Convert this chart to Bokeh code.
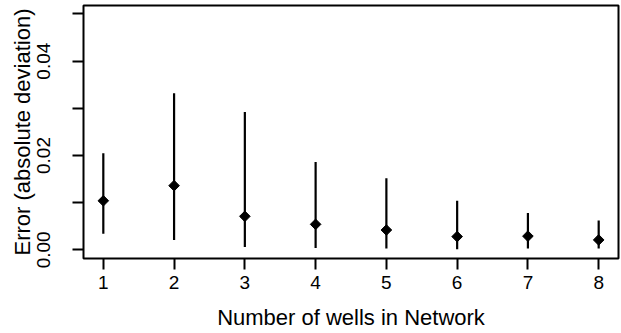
from bokeh.plotting import figure
from bokeh.models import FixedTicker, Range1d, ColumnDataSource
from bokeh.embed import file_html
from bokeh.resources import INLINE
import math

wells = [1, 2, 3, 4, 5, 6, 7, 8]
median_err = [0.0104, 0.0136, 0.0071, 0.0054, 0.0042, 0.0028, 0.0029, 0.0021]
upper_err = [0.0205, 0.0332, 0.0292, 0.0186, 0.0152, 0.0104, 0.0078, 0.0062]
lower_err = [0.0034, 0.0021, 0.0006, 0.0004, 0.0003, 0.0001, 0.0003, 0.0003]
y_ticks = [0.0, 0.01, 0.02, 0.03, 0.04, 0.05]
y_tick_labels = {0.0: "0.00", 0.01: "", 0.02: "0.02", 0.03: "", 0.04: "0.04", 0.05: ""}

src = ColumnDataSource(dict(x=wells, y=median_err, lo=lower_err, hi=upper_err))

p = figure(width=621, height=333, output_backend="svg", toolbar_location=None,
           x_range=Range1d(0.72, 8.28), y_range=Range1d(-0.00184, 0.0518),
           min_border_left=83, min_border_right=3, min_border_top=5, min_border_bottom=75)

p.segment(x0="x", y0="lo", x1="x", y1="hi", source=src, line_color="black", line_width=2.2)
p.scatter(x="x", y="y", source=src, marker="square", angle=math.pi / 4, size=7.5,
          fill_color="black", line_color="black", line_width=1)

p.grid.visible = False
p.background_fill_color = "white"
p.border_fill_color = "white"
p.outline_line_color = "black"
p.outline_line_width = 2
p.outline_line_alpha = 1

font = "Liberation Sans"
p.xaxis.ticker = FixedTicker(ticks=wells)
p.yaxis.ticker = FixedTicker(ticks=y_ticks)
p.yaxis.major_label_overrides = y_tick_labels
for ax in (p.xaxis[0], p.yaxis[0]):
    ax.axis_line_color = None
    ax.major_tick_line_color = "black"
    ax.major_tick_line_width = 2
    ax.major_tick_in = 0
    ax.major_tick_out = 11
    ax.minor_tick_line_color = None
    ax.major_label_text_font = font
    ax.major_label_text_font_size = "19px"
    ax.major_label_text_color = "black"
    ax.axis_label_text_font = font
    ax.axis_label_text_font_size = "22px"
    ax.axis_label_text_font_style = "normal"
    ax.axis_label_text_color = "black"

p.xaxis.axis_label = "Number of wells in Network"
p.yaxis.axis_label = "Error (absolute deviation)"
p.yaxis.major_label_orientation = "vertical"
p.xaxis.major_label_standoff = 6
p.yaxis.major_label_standoff = 22
p.xaxis.axis_label_standoff = 13
p.yaxis.axis_label_standoff = 0

open("out.html", "w").write(file_html(p, INLINE))
